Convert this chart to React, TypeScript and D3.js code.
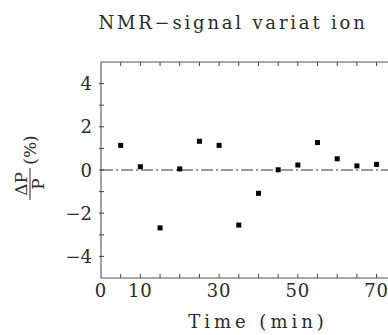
import React from "react";
import * as d3 from "d3";

const times = [5, 10, 15, 20, 25, 30, 35, 40, 45, 50, 55, 60, 65, 70];
const values = [1.14, 0.15, -2.68, 0.05, 1.33, 1.14, -2.55, -1.08, 0.01, 0.23, 1.27, 0.52, 0.19, 0.26];
const xTickLabels = [0, 10, 30, 50, 70];
const xMinorTicks = [5, 10, 15, 20, 25, 30, 35, 40, 45, 50, 55, 60, 65, 70];
const yTickLabels = [-4, -2, 0, 2, 4];
const yMinorTicks = [-4, -3, -2, -1, 0, 1, 2, 3, 4];
const titleText = "NMR\u2212signal variat ion";
const xLabelText = "Time (min)";

const W = 388, H = 335;
const left = 101, top = 62, bottom = 278, right = 388;

export default function App() {
  const x = d3.scaleLinear().domain([0, 72.9]).range([left, right]);
  const y = d3.scaleLinear().domain([-5, 5]).range([bottom, top]);
  const font = "'DejaVu Serif', serif";
  const ink = "#2a2a2a";
  const fmt = (v: number) => (v < 0 ? "\u2212" + Math.abs(v) : String(v));
  return (
    <svg width={W} height={H} style={{ position: "absolute", left: 0, top: 0, background: "#fff" }}>
      <text x={233} y={29} textAnchor="middle" fontFamily={font} fontSize={18} letterSpacing={2.8} fill={ink}>
        {titleText}
      </text>
      {/* axes */}
      <line x1={left} x2={left} y1={top} y2={bottom} stroke="#444" strokeWidth={1} />
      <line x1={left} x2={right} y1={top} y2={top} stroke="#555" strokeWidth={1} />
      <line x1={left} x2={right} y1={bottom} y2={bottom} stroke="#555" strokeWidth={1} />
      {xMinorTicks.map((t) => (
        <g key={"xt" + t}>
          <line x1={x(t)} x2={x(t)} y1={top} y2={top + 4} stroke="#444" />
          <line x1={x(t)} x2={x(t)} y1={bottom} y2={bottom - 4} stroke="#444" />
        </g>
      ))}
      {yMinorTicks.map((v) => (
        <line key={"yt" + v} x1={left - 2} x2={left + 3} y1={y(v)} y2={y(v)} stroke="#444" />
      ))}
      {xTickLabels.map((t) => (
        <text key={"xl" + t} x={x(t)} y={297} textAnchor="middle" fontFamily={font} fontSize={18} letterSpacing={1} fill={ink}>
          {t}
        </text>
      ))}
      {yTickLabels.map((v) => (
        <text key={"yl" + v} x={left - 9} y={y(v) + 6.5} textAnchor="end" fontFamily={font} fontSize={18} fill={ink}>
          {fmt(v)}
        </text>
      ))}
      {/* zero line */}
      <line x1={left} x2={right} y1={y(0)} y2={y(0)} stroke="#333" strokeWidth={1} strokeDasharray="12,3,2,3" />
      {/* points */}
      {times.map((t, i) => (
        <rect key={"p" + t} x={x(t) - 2.5} y={y(values[i]) - 2.5} width={5} height={5} fill="#000" />
      ))}
      <text x={258} y={328} textAnchor="middle" fontFamily={font} fontSize={18} letterSpacing={4} fill={ink}>
        {xLabelText}
      </text>
      {/* y label */}
      <g transform="translate(30,172) rotate(-90)">
        <text x={-12} y={-3} textAnchor="middle" fontFamily={font} fontSize={17} fill={ink}>ΔP</text>
        <line x1={-28} x2={4} y1={0} y2={0} stroke={ink} strokeWidth={1} />
        <text x={-12} y={14} textAnchor="middle" fontFamily={font} fontSize={17} fill={ink}>P</text>
        <text x={22} y={6} textAnchor="middle" fontFamily={font} fontSize={17} fill={ink}>(%)</text>
      </g>
    </svg>
  );
}
